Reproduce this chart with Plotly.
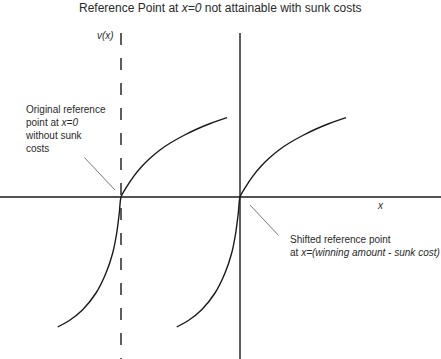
import plotly.graph_objects as go

# Value function (relative to reference point)
gains_x = [0, 6, 12.7, 21, 29.3, 39.3, 49.3, 62.7, 76, 89.3, 106]
gains_y = [0, 10.7, 20.7, 30.7, 39, 47.3, 54, 61.5, 68, 73.5, 79.3]
loss_x = [-63.3, -51.7, -38.3, -25, -15, -8.3, -4.3, -1.7, 0]
loss_y = [-130, -123.5, -112.7, -96, -76, -56, -36, -16, 0]
sunk_cost = 119  # shift of the reference point

axis_x = [-240, 201]
axis_y = [-162, 197]
axis_top = 164
axis_bottom = -162

title = "Reference Point at <i>x=0</i> not attainable with sunk costs"
label_left = "Original reference<br>point at <i>x=0</i><br>without sunk<br>costs"
label_right = "Shifted reference point<br>at <i>x=(winning amount - sunk cost)</i>"

curve_x = loss_x + gains_x[1:]
curve_y = loss_y + gains_y[1:]

ink = "#1a1a1a"
fig = go.Figure()
fig.add_trace(go.Scatter(x=axis_x, y=[0, 0], mode="lines",
                         line=dict(color=ink, width=1.4), hoverinfo="skip"))
fig.add_trace(go.Scatter(x=[0, 0], y=[axis_top, axis_bottom], mode="lines",
                         line=dict(color=ink, width=1.4), hoverinfo="skip"))
fig.add_trace(go.Scatter(x=[-sunk_cost, -sunk_cost], y=[axis_top, axis_bottom], mode="lines",
                         line=dict(color=ink, width=1.4, dash="12px,13px"), hoverinfo="skip"))
fig.add_trace(go.Scatter(x=curve_x, y=curve_y, mode="lines",
                         line=dict(color=ink, width=1.4, shape="spline", smoothing=0.6),
                         hoverinfo="skip"))
fig.add_trace(go.Scatter(x=[v - sunk_cost for v in curve_x], y=curve_y, mode="lines",
                         line=dict(color=ink, width=1.4, shape="spline", smoothing=0.6),
                         hoverinfo="skip"))

fam = "Liberation Sans, Arial"
font_title = dict(family=fam, size=12, color="#2a2a2a")
font = dict(family=fam, size=10, color="#2a2a2a")
annotations = [
    dict(text=title, xref="paper", yref="paper", x=0.5, y=1 - 8 / 359,
         xanchor="center", yanchor="middle", showarrow=False, font=font_title),
    dict(text="<i>v(x)</i>", x=-135, y=162, xanchor="center", yanchor="middle",
         showarrow=False, font=font),
    dict(text="<i>x</i>", x=140, y=-8, xanchor="center", yanchor="middle",
         showarrow=False, font=font),
    dict(text=label_left, x=-217, y=68.5, xanchor="left", yanchor="middle", align="left",
         showarrow=False, font=font),
    dict(text=label_right, x=48, y=-49, xanchor="left", yanchor="middle", align="left",
         showarrow=False, font=font),
    dict(text="", x=-125, y=7, ax=-157, ay=41, axref="x", ayref="y",
         showarrow=True, arrowhead=0, arrowwidth=0.8, arrowcolor="#555", standoff=0),
    dict(text="", x=10, y=-8, ax=40, ay=-40, axref="x", ayref="y",
         showarrow=True, arrowhead=0, arrowwidth=0.8, arrowcolor="#555", standoff=0),
]

fig.update_layout(
    width=441, height=359,
    margin=dict(l=0, r=0, t=0, b=0),
    paper_bgcolor="white", plot_bgcolor="white",
    showlegend=False,
    xaxis=dict(range=axis_x, visible=False, fixedrange=True),
    yaxis=dict(range=axis_y, visible=False, fixedrange=True),
    annotations=annotations,
)

fig.write_html("out.html", config={"displayModeBar": False},
               post_script="document.body.style.margin='0';document.body.style.overflow='hidden';")
